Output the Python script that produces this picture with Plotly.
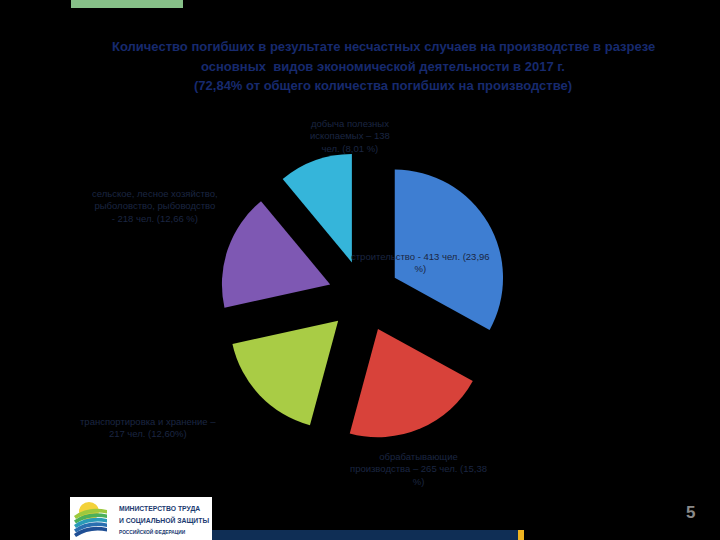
import plotly.graph_objects as go

# ---- data ----
categories = [
    "строительство",
    "обрабатывающие производства",
    "транспортировка и хранение",
    "сельское, лесное хозяйство, рыболовство, рыбоводство",
    "добыча полезных ископаемых",
]
deaths = [413, 265, 217, 218, 138]
shares = ["23,96", "15,38", "12,60", "12,66", "8,01"]
colors = ["#3e7ed2", "#d8423a", "#a9cc45", "#7e58b3", "#35b5da"]

title_lines = [
    "Количество погибших в результате несчастных случаев на производстве в разрезе",
    "основных  видов экономической деятельности в 2017 г.",
    "(72,84% от общего количества погибших на производстве)",
]

label_texts = [
    "строительство - 413 чел. (23,96<br>%)",
    "обрабатывающие<br>производства – 265 чел. (15,38<br>%)",
    "транспортировка и хранение –<br>217 чел. (12,60%)",
    "сельское, лесное хозяйство,<br>рыболовство, рыбоводство<br>- 218 чел. (12,66 %)",
    "добыча полезных<br>ископаемых – 138<br>чел. (8,01 %)",
]
# label centre positions in pixels (x, y of first line top)
label_pos = [(420, 249), (418, 449), (148, 414), (155, 186), (350, 116)]

W, H = 720, 540


def px(x):
    return x / W


def py(y):
    return 1 - y / H


fig = go.Figure()
fig.add_trace(go.Pie(
    labels=categories,
    values=deaths,
    sort=False,
    direction="clockwise",
    rotation=0,
    pull=[0.33] * len(deaths),
    marker=dict(colors=colors, line=dict(width=0)),
    textinfo="none",
    hoverinfo="label+value",
    showlegend=False,
    domain=dict(x=[px(220), px(508)], y=[py(440), py(152)]),
))

annotations = []
# title
for i, line in enumerate(title_lines):
    annotations.append(dict(
        x=px(383), y=py(47 + i * 19), xref="paper", yref="paper", xanchor="center", yanchor="middle",
        text=line, showarrow=False, align="center",
        font=dict(family="Liberation Sans, Arial", size=13, color="#172a6e", weight="bold"),
    ))
# data labels
for t, (x, y) in zip(label_texts, label_pos):
    annotations.append(dict(
        x=px(x), y=py(y), xref="paper", yref="paper", xanchor="center", yanchor="top",
        text=t, showarrow=False, align="center",
        font=dict(family="Liberation Sans, Arial", size=9.5, color="#1b2642"),
    ))
# page number
annotations.append(dict(
    x=px(690), y=py(512), xref="paper", yref="paper", xanchor="center", yanchor="middle",
    text="5", showarrow=False,
    font=dict(family="Liberation Sans, Arial", size=17, color="#8a8a8a", weight="bold"),
))
# logo text
for txt, yy, sz in [("МИНИСТЕРСТВО ТРУДА", 509, 6.8),
                    ("И СОЦИАЛЬНОЙ ЗАЩИТЫ", 520, 6.8),
                    ("РОССИЙСКОЙ ФЕДЕРАЦИИ", 531, 4.8)]:
    annotations.append(dict(
        x=px(117), y=py(yy), xref="paper", yref="paper", xanchor="left", yanchor="middle",
        text=f"<b>{txt}</b>", showarrow=False, align="left",
        font=dict(family="Liberation Sans, Arial", size=sz, color="#1b3a70"),
    ))

shapes = [
    # green top bar
    dict(type="rect", xref="paper", yref="paper", x0=px(71), x1=px(183), y0=py(8), y1=py(0),
         fillcolor="#86bf88", line=dict(width=0)),
    # logo white box
    dict(type="rect", xref="paper", yref="paper", x0=px(70), x1=px(212), y0=py(540), y1=py(497),
         fillcolor="#ffffff", line=dict(width=0)),
    # bottom navy bar
    dict(type="rect", xref="paper", yref="paper", x0=px(212), x1=px(518), y0=py(540), y1=py(530),
         fillcolor="#0f2e55", line=dict(width=0)),
    dict(type="rect", xref="paper", yref="paper", x0=px(518), x1=px(524), y0=py(540), y1=py(530),
         fillcolor="#efb420", line=dict(width=0)),
    # logo icon: sun
    dict(type="circle", xref="paper", yref="paper", x0=px(79), x1=px(99), y0=py(521), y1=py(502),
         fillcolor="#f3d23a", line=dict(width=0)),
]
# logo icon: waves
wave_cols = ["#9cc93e", "#4cb05a", "#2a9bb8", "#2a6fb0", "#1f4f95"]
for i, c in enumerate(wave_cols):
    y0 = 512 + i * 4.5
    path = (f"M {px(74)} {py(y0+4)} Q {px(88)} {py(y0-6)} {px(107)} {py(y0-2)} "
            f"L {px(107)} {py(y0+1.5)} Q {px(90)} {py(y0-2)} {px(76)} {py(y0+7)} Z")
    shapes.append(dict(type="path", xref="paper", yref="paper", path=path,
                       fillcolor=c, line=dict(width=0)))

fig.update_layout(
    width=W, height=H,
    margin=dict(l=0, r=0, t=0, b=0),
    paper_bgcolor="#000000",
    plot_bgcolor="#000000",
    annotations=annotations,
    shapes=shapes,
)

fig.write_html("out.html")
